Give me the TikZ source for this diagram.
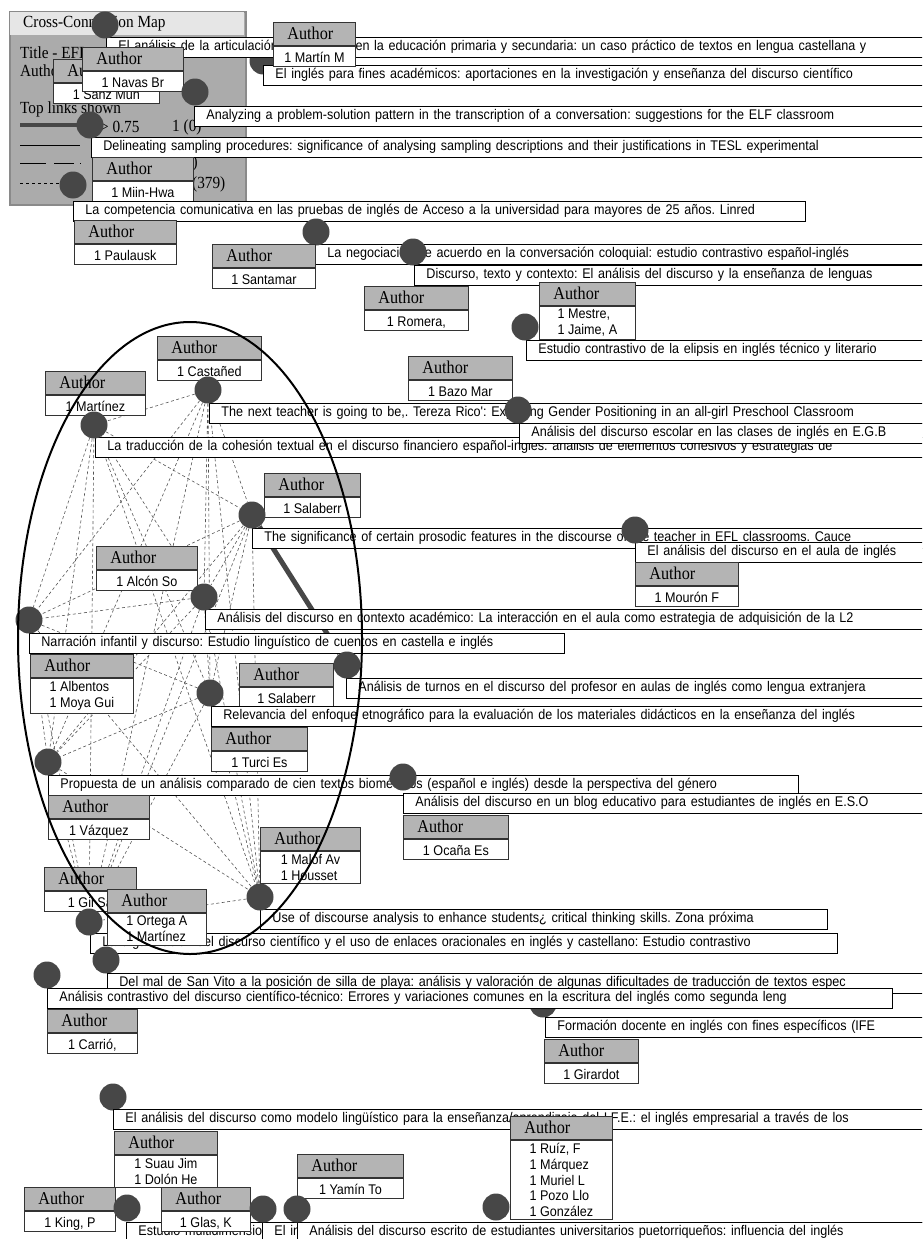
\documentclass[tikz,border=0pt]{standalone}
\usepackage{fontspec}
\newfontfamily\sansnarrow[FakeStretch=0.9]{Liberation Sans}
\newfontfamily\serifnarrow[FakeStretch=0.9]{Liberation Serif}
\newcommand{\doctitlefont}{\sansnarrow\fontsize{14pt}{16pt}\selectfont\frenchspacing}
\newcommand{\authheadfont}{\serifnarrow\fontsize{18pt}{20pt}\selectfont}
\newcommand{\authnamefont}{\sansnarrow\fontsize{14pt}{15.8pt}\selectfont\frenchspacing}
\newcommand{\legendfont}{\serifnarrow\fontsize{17pt}{19pt}\selectfont}
\definecolor{dotgray}{HTML}{474747}
\definecolor{headgray}{HTML}{B4B4B4}
\definecolor{panelgray}{HTML}{ABABAB}
\definecolor{barlight}{HTML}{E6E6E6}
\definecolor{panelrim}{HTML}{8A8A8A}
\definecolor{boxrim}{HTML}{333333}
\definecolor{linkgray}{HTML}{555555}
\pgfdeclarelayer{bg}
\pgfsetlayers{bg,main}

\begin{document}
\begin{tikzpicture}[x=1pt, y=-1pt,
    docdot/.style={circle, fill=dotgray, inner sep=0pt, minimum size=27pt},
    doctitle/.style={draw=black, line width=0.8pt, fill=white, anchor=north west, text width=#1,
      inner xsep=12pt, inner ysep=0pt, minimum height=20pt, text height=10pt, text depth=3pt,
      align=left, font=\doctitlefont},
    authhead/.style={draw=boxrim, line width=0.8pt, fill=headgray, anchor=north west, text width=#1,
      inner xsep=14pt, inner ysep=0pt, minimum height=23pt, text height=13.5pt, text depth=2.5pt,
      align=left, font=\authheadfont},
    authbody/.style={draw=boxrim, line width=0.8pt, fill=white, anchor=north west, minimum width=#1,
      inner ysep=3pt, text height=13pt, text depth=1pt, font=\authnamefont},
    authlist/.style={draw=boxrim, line width=0.8pt, fill=white, anchor=north west, minimum width=#1,
      inner ysep=3pt, align=left, font=\authnamefont},
    legendtext/.style={anchor=west, inner sep=0pt, font=\legendfont},
    simlink/.style={draw=linkgray, line width=0.6pt, dash pattern=on 3pt off 2.5pt},
    stronglink/.style={draw=dotgray, line width=5pt}]

  \useasboundingbox (0,0) rectangle (922,1239);
  \begin{pgfonlayer}{bg}
    \fill[white] (0,0) rectangle (922,1239);
  \end{pgfonlayer}
  \clip (0,0) rectangle (922,1239);

  % legend panel
  \node[draw=panelrim, line width=2pt, fill=panelgray, anchor=north west, minimum width=236pt,
    minimum height=193pt, inner sep=0pt] (legend) at (9,11) {};
  \node[fill=barlight, anchor=north west, minimum width=234pt, minimum height=23pt, inner sep=0pt] (legendbar) at (10,12) {};
  \node[legendtext] (lgTitle) at (23,24) {Cross-Connection Map};
  \node[legendtext] (lgDoc) at (20,53) {Title - EFL};
  \node[legendtext] (lgAuth) at (20,71) {Author};
  \node[legendtext] (lgTop) at (20,109) {Top links shown};
  \coordinate (slA) at (20,125);
  \coordinate (slB) at (88,125);
  \draw[dotgray, line width=4pt] (slA) -- (slB);
  \node[legendtext] (lgHigh) at (100,127) {> 0.75};
  \node[legendtext] (lgHighN) at (172,127) {1 (0)};
  \coordinate (soA) at (20,145);
  \coordinate (soB) at (80,145);
  \draw[black, line width=0.8pt] (soA) -- (soB);
  \coordinate (lgA) at (20,163);
  \coordinate (lgB) at (81,163);
  \draw[black, line width=0.8pt, dash pattern=on 26pt off 8pt on 20pt off 6pt on 1pt off 20pt] (lgA) -- (lgB);
  \node[legendtext, anchor=east] (lgMidN) at (198,163) {1 (0)};
  \coordinate (doA) at (20,183);
  \coordinate (doB) at (62,183);
  \draw[black, line width=0.8pt, dash pattern=on 3pt off 3pt] (doA) -- (doB);
  \node[legendtext] (lgLowN) at (192,184) {(379)};

  % top documents
  \node[docdot] (dIng) at (263,61) {};
  \node[doctitle=804pt] (tArt) at (106,37) {\mbox{El análisis de la articulación del discurso en la educación primaria y secundaria: un caso práctico de textos en lengua castellana y}};
  \node[doctitle=647pt] (tIng) at (263,65) {\mbox{El inglés para fines académicos: aportaciones en la investigación y enseñanza del discurso científico}};
  \node[authhead=54pt] (aMartin) at (273,22) {Author};
  \node[authbody=82pt] (nMartin) at (aMartin.south west) {1 Martín M};
  \node[docdot] (dArt) at (105,25) {};
  \node[authhead=78pt] (aSanz) at (53,59) {Author};
  \node[authbody=106pt] (nSanz) at (aSanz.south west) {1 Sanz Mun};
  \node[authhead=73pt] (aNavas) at (82,47) {Author};
  \node[authbody=101pt] (nNavas) at (aNavas.south west) {1 Navas Br};
  \node[doctitle=716pt] (tAna) at (194,106) {\mbox{Analyzing a problem-solution pattern in the transcription of a conversation: suggestions for the ELF classroom}};
  \node[docdot] (dAna) at (195,92) {};
  \node[doctitle=819pt] (tDel) at (91,137) {\mbox{Delineating sampling procedures: significance of analysing sampling descriptions and their justifications in TESL experimental}};
  \node[docdot] (dDel) at (90,125) {};
  \node[authhead=73pt] (aMiin) at (92,157) {Author};
  \node[authbody=101pt] (nMiin) at (aMiin.south west) {1 Miin-Hwa};
  \node[doctitle=708pt] (tCom) at (73,201) {\mbox{La competencia comunicativa en las pruebas de inglés de Acceso a la universidad para mayores de 25 años. Linred}};
  \node[docdot] (dCom) at (73,185) {};
  \node[authhead=74pt] (aPaul) at (74,220) {Author};
  \node[authbody=102pt] (nPaul) at (aPaul.south west) {1 Paulausk};
  \node[doctitle=595pt] (tNeg) at (315,244) {\mbox{La negociación de acuerdo en la conversación coloquial: estudio contrastivo español-inglés}};
  \node[docdot] (dNeg) at (316,232) {};
  \node[authhead=75pt] (aSant) at (212,244) {Author};
  \node[authbody=103pt] (nSant) at (aSant.south west) {1 Santamar};
  \node[docdot] (dDis) at (413,252) {};
  \node[doctitle=496pt] (tDis) at (414,265) {\mbox{Discurso, texto y contexto: El análisis del discurso y la enseñanza de lenguas}};
  \node[authhead=76pt] (aRom) at (364,286) {Author};
  \node[authbody=104pt] (nRom) at (aRom.south west) {1 Romera,};
  \node[authhead=68pt] (aMes) at (539,282) {Author};
  \node[authlist=96pt] (nMes) at (aMes.south west) {1 Mestre,\\1 Jaime, A};
  \node[doctitle=384pt] (tEli) at (526,340) {\mbox{Estudio contrastivo de la elipsis en inglés técnico y literario}};
  \node[docdot] (dEli) at (525,327) {};

  % cluster
  \node[authhead=76pt] (aCast) at (157,336) {Author};
  \node[authbody=104pt] (nCast) at (aCast.south west) {1 Castañed};
  \node[doctitle=701pt] (tNext) at (209,403) {\mbox{The next teacher is going to be,. Tereza Rico': Exploring Gender Positioning in an all-girl Preschool Classroom}};
  \node[docdot] (dNext) at (208,390) {};
  \node[authhead=76pt] (aBazo) at (408,356) {Author};
  \node[authbody=104pt] (nBazo) at (aBazo.south west) {1 Bazo Mar};
  \node[doctitle=815pt] (tTrad) at (95,437) {\mbox{La traducción de la cohesión textual en el discurso financiero español-inglés: análisis de elementos cohesivos y estrategias de}};
  \node[doctitle=391pt] (tEgb) at (519,423) {\mbox{Análisis del discurso escolar en las clases de inglés en E.G.B}};
  \node[docdot] (dEgb) at (518,410) {};
  \node[authhead=72pt] (aMart) at (45,371) {Author};
  \node[authbody=100pt] (nMart) at (aMart.south west) {1 Martínez};
  \node[docdot] (dTrad) at (94,425) {};
  \node[authhead=68pt] (aSal) at (264,473) {Author};
  \node[authbody=96pt] (nSal) at (aSal.south west) {1 Salaberr};
  \node[doctitle=658pt] (tSig) at (252,528) {\mbox{The significance of certain prosodic features in the discourse of the teacher in EFL classrooms. Cauce}};
  \node[docdot] (dSig) at (252,515) {};
  \node[doctitle=275pt] (tAula) at (635,542) {\mbox{El análisis del discurso en el aula de inglés}};
  \node[docdot] (dAula) at (635,530) {};
  \node[authhead=75pt] (aMour) at (635,562) {Author};
  \node[authbody=103pt] (nMour) at (aMour.south west) {1 Mourón F};
  \node[authhead=73pt] (aAlc) at (96,546) {Author};
  \node[authbody=101pt] (nAlc) at (aAlc.south west) {1 Alcón So};
  \node[doctitle=705pt] (tCtx) at (205,609) {\mbox{Análisis del discurso en contexto académico: La interacción en el aula como estrategia de adquisición de la L2}};
  \node[docdot] (dCtx) at (204,597) {};
  \node[doctitle=511pt] (tNarr) at (29,633) {\mbox{Narración infantil y discurso: Estudio linguístico de cuentos en castella e inglés}};
  \node[docdot] (dNarr) at (29,620) {};
  \node[authhead=75pt] (aAlb) at (30,654) {Author};
  \node[authlist=103pt] (nAlb) at (aAlb.south west) {1 Albentos\\1 Moya Gui};
  \node[authhead=66pt] (aSalb) at (239,663) {Author};
  \node[authbody=94pt] (nSalb) at (aSalb.south west) {1 Salaberr};
  \node[doctitle=564pt] (tTurn) at (346,678) {\mbox{Análisis de turnos en el discurso del profesor en aulas de inglés como lengua extranjera}};
  \node[docdot] (dTurn) at (347,665) {};
  \node[doctitle=699pt] (tRel) at (211,706) {\mbox{Relevancia del enfoque etnográfico para la evaluación de los materiales didácticos en la enseñanza del inglés}};
  \node[docdot] (dRel) at (210,693) {};
  \node[authhead=68pt] (aTurc) at (211,727) {Author};
  \node[authbody=96pt] (nTurc) at (aTurc.south west) {1 Turci Es};
  \node[doctitle=726pt] (tProp) at (48,775) {\mbox{Propuesta de un análisis comparado de cien textos biomédicos (español e inglés) desde la perspectiva del género}};
  \node[docdot] (dProp) at (48,762) {};
  \node[doctitle=507pt] (tBlog) at (403,793) {\mbox{Análisis del discurso en un blog educativo para estudiantes de inglés en E.S.O}};
  \node[docdot] (dBlog) at (403,777) {};
  \node[authhead=73pt] (aVaz) at (48,795) {Author};
  \node[authbody=101pt] (nVaz) at (aVaz.south west) {1 Vázquez};
  \node[authhead=77pt] (aOca) at (403,815) {Author};
  \node[authbody=105pt] (nOca) at (aOca.south west) {1 Ocaña Es};
  \node[authhead=72pt] (aMal) at (260,827) {Author};
  \node[authlist=100pt] (nMal) at (aMal.south west) {1 Malof Av\\1 Housset};
  \node[doctitle=543pt] (tUse) at (260,909) {\mbox{Use of discourse analysis to enhance students¿ critical thinking skills. Zona próxima}};
  \node[docdot] (dUse) at (260,897) {};
  \node[authhead=64pt] (aGil) at (44,867) {Author};
  \node[authbody=92pt] (nGil) at (aGil.south west) {1 Gil Sa};
  \node[doctitle=723pt] (tEnl) at (90,933) {\mbox{La organización del discurso científico y el uso de enlaces oracionales en inglés y castellano: Estudio contrastivo}};
  \node[docdot] (dEnl) at (89,922) {};
  \node[authhead=71pt] (aOrt) at (107,889) {Author};
  \node[authlist=99pt] (nOrt) at (aOrt.south west) {1 Ortega A\\1 Martínez};

  % lower documents
  \node[docdot] (dMal) at (106,960) {};
  \node[doctitle=803pt] (tMal) at (107,973) {\mbox{Del mal de San Vito a la posición de silla de playa: análisis y valoración de algunas dificultades de traducción de textos espec}};
  \node[docdot] (dForm) at (543,1004) {};
  \node[doctitle=821pt] (tCon) at (47,988) {\mbox{Análisis contrastivo del discurso científico-técnico: Errores y variaciones comunes en la escritura del inglés como segunda leng}};
  \node[docdot] (dCon) at (47,975) {};
  \node[authhead=62pt] (aCar) at (47,1009) {Author};
  \node[authbody=90pt] (nCar) at (aCar.south west) {1 Carrió,};
  \node[doctitle=365pt] (tForm) at (545,1017) {\mbox{Formación docente en inglés con fines específicos (IFE}};
  \node[authhead=66pt] (aGir) at (544,1039) {Author};
  \node[authbody=94pt] (nGir) at (aGir.south west) {1 Girardot};
  \node[docdot] (dMod) at (113,1097) {};
  \node[doctitle=797pt] (tMod) at (113,1109) {\mbox{El análisis del discurso como modelo lingüístico para la enseñanza/aprendizaje del I.F.E.: el inglés empresarial a través de los}};
  \node[authhead=75pt] (aSuau) at (114,1131) {Author};
  \node[authlist=103pt] (nSuau) at (aSuau.south west) {1 Suau Jim\\1 Dolón He};
  \node[docdot] (dEscB) at (496,1207) {};
  \node[authhead=74pt] (aRuiz) at (510,1116) {Author};
  \node[authlist=102pt] (nRuiz) at (aRuiz.south west) {1 Ruíz, F\\1 Márquez\\1 Muriel L\\1 Pozo Llo\\1 González};
  \node[authhead=78pt] (aYam) at (297,1154) {Author};
  \node[authbody=106pt] (nYam) at (aYam.south west) {1 Yamín To};
  \node[doctitle=784pt] (tEst) at (126,1222) {\mbox{Estudio multidimensional}};
  \node[authhead=63pt] (aKing) at (24,1187) {Author};
  \node[authbody=91pt] (nKing) at (aKing.south west) {1 King, P};
  \node[authhead=61pt] (aGlas) at (161,1187) {Author};
  \node[authbody=89pt] (nGlas) at (aGlas.south west) {1 Glas, K};
  \node[docdot] (dEst) at (127,1208) {};
  \node[doctitle=648pt] (tIn) at (262,1222) {\mbox{El in}};
  \node[docdot] (dIn) at (263,1209) {};
  \node[doctitle=613pt] (tEsc) at (297,1222) {\mbox{Análisis del discurso escrito de estudiantes universitarios puetorriqueños: influencia del inglés}};
  \node[docdot] (dEsc) at (297,1209) {};

  % links under everything
  \begin{pgfonlayer}{bg}
    \draw[stronglink] (dSig) -- (dTurn);
    \draw[simlink] (dNext) -- (dTrad) (dNext) -- (dSig) (dNext) -- (dCtx) (dNext) -- (dNarr)
      (dNext) -- (dRel) (dNext) -- (dProp) (dNext) -- (dUse) (dNext) -- (dEnl);
    \draw[simlink] (dTrad) -- (dSig) (dTrad) -- (dCtx) (dTrad) -- (dNarr) (dTrad) -- (dRel)
      (dTrad) -- (dProp) (dTrad) -- (dUse) (dTrad) -- (dEnl);
    \draw[simlink] (dSig) -- (dCtx) (dSig) -- (dNarr) (dSig) -- (dRel) (dSig) -- (dProp)
      (dSig) -- (dUse) (dSig) -- (dEnl);
    \draw[simlink] (dCtx) -- (dNarr) (dCtx) -- (dRel) (dCtx) -- (dProp) (dCtx) -- (dUse) (dCtx) -- (dEnl);
    \draw[simlink] (dNarr) -- (dRel) (dNarr) -- (dProp) (dNarr) -- (dUse) (dNarr) -- (dEnl);
    \draw[simlink] (dRel) -- (dProp) (dRel) -- (dUse) (dRel) -- (dEnl);
    \draw[simlink] (dProp) -- (dUse) (dProp) -- (dEnl) (dUse) -- (dEnl);
  \end{pgfonlayer}

  % cluster outline
  \draw[black, line width=2pt] (190,638) ellipse [x radius=172pt, y radius=316pt];
\end{tikzpicture}
\end{document}
